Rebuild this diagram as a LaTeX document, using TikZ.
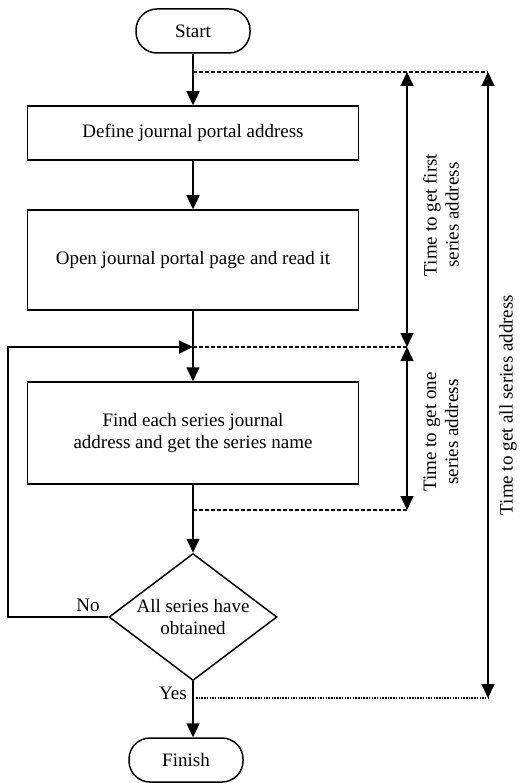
\documentclass[tikz,border=0pt]{standalone}
\usepackage{fontspec}
\setmainfont{Liberation Serif}
\usetikzlibrary{arrows.meta,positioning,shapes.geometric}

\tikzset{
  block/.style={draw,minimum width=331pt,inner sep=0pt,align=center},
  term/.style={draw,rounded corners=21pt,minimum width=114pt,minimum height=44pt,inner sep=0pt},
  decision/.style={draw,diamond,aspect=1.32,minimum width=168pt,minimum height=127pt,inner sep=-3pt,align=center},
  arr/.style={-{Triangle[length=14pt,width=13pt]}},
  dbl/.style={{Triangle[length=14pt,width=13pt]}-{Triangle[length=14pt,width=13pt]}},
  dashline/.style={line width=1.3pt,dash pattern={on 4pt off 2pt}},
  dotline/.style={line width=1.3pt,dash pattern={on 1.5pt off 1.2pt}},
}

\begin{document}
\begin{tikzpicture}[x=1pt,y=-1pt,line width=1.5pt,every node/.style={font=\fontsize{19}{22}\selectfont}]
  \useasboundingbox (0,0) rectangle (519,783);

  %Terminals and boxes
  \node[term] (start) at (193,31) {Start};
  \node[block,minimum height=54pt] (define) at (193,133) {Define journal portal address};
  \node[block,minimum height=100pt] (open) at (193,260) {Open journal portal page and read it};
  \node[block,minimum height=102pt] (find) at (193,433) {Find each series journal\\address and get the series name};
  \node[decision] (check) at (193,617) {All series have\\obtained};
  \node[term] (finish) at (186,760) {Finish};

  %Points on the main line
  \coordinate (top) at (193,72);
  \coordinate (loop) at (193,347);
  \coordinate (low) at (193,510);
  \coordinate (yes) at (196,698);
  \coordinate (corner) at (8,347);

  %Points of the time arrows
  \coordinate (aTop) at (407,72);
  \coordinate (aMid) at (407,347);
  \coordinate (aLow) at (407,510);
  \coordinate (bTop) at (488,72);
  \coordinate (bLow) at (488,698);

  %Flow arrows
  \draw[arr] (start.south) -- (start.south |- define.north);
  \draw[arr] (define) -- (open);
  \draw[arr] (open) -- (find);
  \draw[arr] (find) -- (check);
  \draw[arr] (check.south) -- (check.south |- finish.north);
  \draw[arr] (check.west) -| (corner) -- (loop);

  %Time marks
  \draw[dashline] (top) -- (bTop);
  \draw[dashline] (loop) -- (aMid);
  \draw[dashline] (low) -- (aLow);
  \draw[dotline] (yes) -- (bLow);
  \draw[dbl] (aTop) -- (aMid);
  \draw[dbl] (aMid) -- (aLow);
  \draw[dbl] (bTop) -- (bLow);

  % Text Node
  \node (nolabel) at (88,605) {No};
  \node (yeslabel) at (173,693) {Yes};
  \node[rotate=90,align=center] (tfirst) at (441,215) {Time to get first\\series address};
  \node[rotate=90,align=center] (tone) at (441,432) {Time to get one\\series address};
  \node[rotate=90] (tall) at (508,405) {Time to get all series address};
\end{tikzpicture}
\end{document}
